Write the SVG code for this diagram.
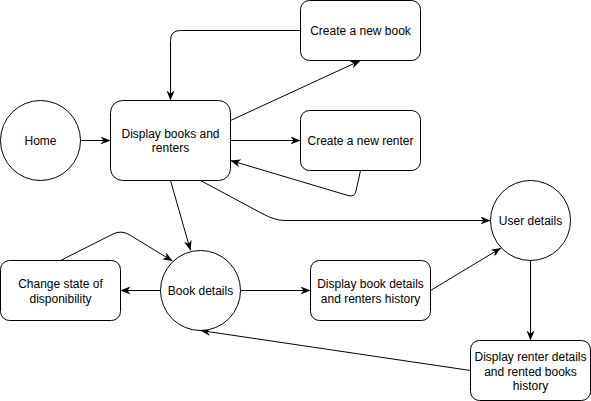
<svg xmlns="http://www.w3.org/2000/svg" width="591" height="401" viewBox="0 0 591 401">
<style>
.n{fill:#fff;stroke:#000;stroke-width:1}
.t{font-family:"Liberation Sans",Arial,sans-serif;font-size:12px;fill:#000;text-anchor:middle}
.e{fill:none;stroke:#000;stroke-width:1;marker-end:url(#a)}
</style>
<defs>
<marker id="a" viewBox="0 0 10 8" refX="10" refY="4" markerWidth="10" markerHeight="8" markerUnits="userSpaceOnUse" orient="auto">
<path d="M0,0 L10,4 L0,8 L3,4 Z" fill="#000"/>
</marker>
</defs>
<rect width="591" height="401" fill="#fff"/>
<g id="edges">
<path class="e" d="M80.5,140.5 L110.5,140.5"/>
<path class="e" d="M300.5,30.5 L180.5,30.5 Q170.5,30.5 170.5,40.5 L170.5,100.5"/>
<path class="e" d="M230.5,120.5 L360.5,60.5"/>
<path class="e" d="M230.5,140.5 L300.5,140.5"/>
<path class="e" d="M360.5,170.5 L356,191 Q354.5,197.5 348,195.5 L230.5,160.5"/>
<path class="e" d="M170.5,180.5 L190.5,250.5"/>
<path class="e" d="M200.5,180.5 L263,214 Q275,220.5 285,220.5 L490.5,220.5"/>
<path class="e" d="M60.5,260.5 L113,234 Q121,230 129,234.5 L172.5,261"/>
<path class="e" d="M160.5,290.5 L120.5,290.5"/>
<path class="e" d="M240.5,290.5 L310.5,290.5"/>
<path class="e" d="M430.5,290.5 L501,248"/>
<path class="e" d="M530.5,260.5 L530.5,340.5"/>
<path class="e" d="M470.5,370.5 L200.5,330.5"/>
</g>
<g id="home"><circle class="n" cx="40.5" cy="140.5" r="40"/><text class="t" x="40.5" y="144.5">Home</text></g>
<g id="display-books"><rect class="n" x="110.5" y="100.5" width="120" height="80" rx="12" ry="12"/><text class="t" x="170.5" y="137.5">Display books and</text><text class="t" x="170.5" y="152">renters</text></g>
<g id="create-book"><rect class="n" x="300.5" y="0.5" width="120" height="60" rx="9" ry="9"/><text class="t" x="360.5" y="34.5">Create a new book</text></g>
<g id="create-renter"><rect class="n" x="300.5" y="110.5" width="120" height="60" rx="9" ry="9"/><text class="t" x="360.5" y="144.5">Create a new renter</text></g>
<g id="user-details"><circle class="n" cx="530.5" cy="220.5" r="40"/><text class="t" x="530.5" y="224.5">User details</text></g>
<g id="change-state"><rect class="n" x="0.5" y="260.5" width="120" height="60" rx="9" ry="9"/><text class="t" x="60.5" y="288">Change state of</text><text class="t" x="60.5" y="302.5">disponibility</text></g>
<g id="book-details"><circle class="n" cx="200.5" cy="290.5" r="40"/><text class="t" x="200.5" y="294.5">Book details</text></g>
<g id="display-book-details"><rect class="n" x="310.5" y="260.5" width="120" height="60" rx="9" ry="9"/><text class="t" x="370.5" y="288">Display book details</text><text class="t" x="370.5" y="302.5">and renters history</text></g>
<g id="display-renter-details"><rect class="n" x="470.5" y="340.5" width="120" height="60" rx="9" ry="9"/><text class="t" x="530.5" y="361">Display renter details</text><text class="t" x="530.5" y="375.5">and rented books</text><text class="t" x="530.5" y="390">history</text></g>
</svg>
